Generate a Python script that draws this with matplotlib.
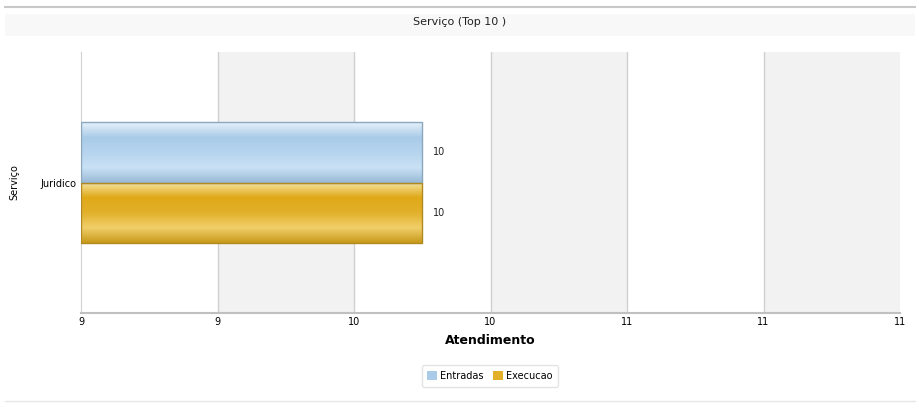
import numpy as np
import matplotlib.pyplot as plt
from matplotlib.colors import LinearSegmentedColormap
from matplotlib.patches import Patch

categories = ["Juridico"]
entradas = [10]
execucao = [10]
series_names = ["Entradas", "Execucao"]
x_ticks = [9.0, 9.4, 9.8, 10.2, 10.6, 11.0, 11.4]

fig = plt.figure(figsize=(9.2, 4.08), dpi=100)
fig.patch.set_facecolor("white")

# title strip and thin frame lines
fig.add_artist(plt.Rectangle((0.005, 1 - 36 / 408), 0.99, 22 / 408, transform=fig.transFigure,
                             facecolor="#f8f8f8", edgecolor="none"))
fig.add_artist(plt.Line2D([0.005, 0.995], [1 - 7 / 408] * 2, color="#c8c8c8", lw=1.5))
fig.add_artist(plt.Line2D([0.005, 0.995], [1 - 401 / 408] * 2, color="#e6e6e6", lw=1))
fig.text(0.5, 1 - 22 / 408, "Serviço (Top 10 )", ha="center", va="center", fontsize=8, color="#222222")

ax = fig.add_axes([81 / 920, 1 - 313 / 408, (900 - 81) / 920, (313 - 52) / 408])

# alternating bands
for i in range(len(x_ticks) - 1):
    if i % 2 == 1:
        ax.axvspan(x_ticks[i], x_ticks[i + 1], color="#f2f2f2", zorder=0, lw=0)
for t in x_ticks[1:-1]:
    ax.axvline(t, color="#d0d0d0", lw=1, zorder=1)

h = 0.23
x0 = x_ticks[0]
y = np.arange(len(categories))
blue_cmap = LinearSegmentedColormap.from_list("b", ["#e6f1fb", "#a9cbe8", "#b6d4ee", "#c9e1f5", "#9ab9d6"])
gold_cmap = LinearSegmentedColormap.from_list("g", ["#f6e3a0", "#dfa918", "#e2b02a", "#f0cf6a", "#c99a1a"])

grad = np.linspace(0, 1, 100).reshape(-1, 1)
for vals, off, cmap, edge in [(entradas, h / 2, blue_cmap, "#8aa7c0"), (execucao, -h / 2, gold_cmap, "#b08a20")]:
    widths = [v - x0 for v in vals]
    bars = ax.barh(y + off, widths, height=h, left=x0, color="none", edgecolor=edge, lw=1, zorder=3)
    for b, v in zip(bars, vals):
        y0 = b.get_y()
        im = ax.imshow(grad, cmap=cmap, aspect="auto", origin="upper",
                       extent=[x0, v, y0, y0 + h], zorder=2)
        im.set_clip_path(b)
        ax.text(v + 0.03, y0 + h / 2, str(v), va="center", ha="left", fontsize=7, color="#222222")
ax.set_xlim(x_ticks[0], x_ticks[-1])
ax.set_ylim(-0.5, 0.5)

ax.set_xticks(x_ticks)
ax.set_xticklabels([str(int(round(t))) for t in x_ticks], fontsize=7)
ax.set_yticks(y)
ax.set_yticklabels(categories, fontsize=7)
ax.tick_params(axis="x", length=0, pad=3)
ax.tick_params(axis="y", length=0, pad=3)
for s in ["top", "right"]:
    ax.spines[s].set_visible(False)
ax.spines["left"].set_color("#d0d0d0")
ax.spines["bottom"].set_color("#c0c0c0")
ax.spines["bottom"].set_linewidth(1.5)
ax.set_xlabel("Atendimento", fontsize=9, fontweight="bold", labelpad=5)
ax.set_ylabel("Serviço", fontsize=7, labelpad=12)
ax.yaxis.set_label_coords(-0.075, 0.5)

handles = [Patch(facecolor="#a9cbe8", edgecolor="none"), Patch(facecolor="#e2b02a", edgecolor="none")]
fig.legend(handles, series_names, loc="center", bbox_to_anchor=(490 / 920, 1 - 376 / 408), ncol=2,
           fontsize=7, frameon=True, fancybox=True, edgecolor="#dddddd", handlelength=1.0,
           handleheight=1.0, handletextpad=0.3, columnspacing=1.0, borderpad=0.6)

fig.savefig("out.png", dpi=100)
